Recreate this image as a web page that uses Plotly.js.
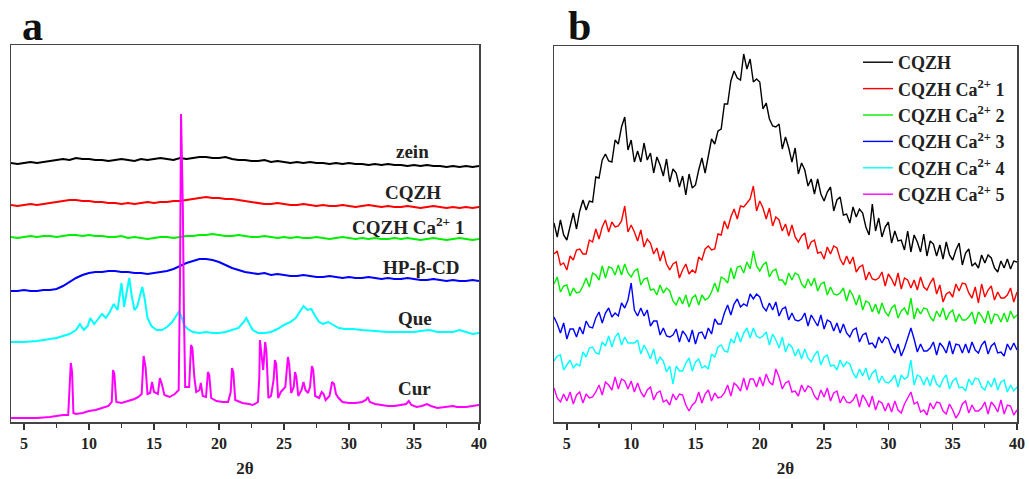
<!DOCTYPE html>
<html>
<head>
<meta charset="utf-8">
<script src="https://cdn.plot.ly/plotly-3.0.1.min.js"></script>
<style>html,body{margin:0;padding:0;background:#fff;}#chart{width:1029px;height:479px;}</style>
</head>
<body>
<div id="chart"></div>
<script>
// ---------- Panel a : 2θ sampling grid (0.5° steps) and intensities (a.u., stacked) ----------
const THETA_A_START = 4, THETA_A_STEP = 0.5, THETA_A_COUNT = 73;
const thetaA = [];
for (let i = 0; i < THETA_A_COUNT; i++) thetaA.push(THETA_A_START + i * THETA_A_STEP);

const zeinA = [259,258,259,260,259,260,261,262,263,262,264,263,263,262,262,261,262,263,262,261,263,262,263,264,263,262,264,263,264,265,265,264,264,265,263,262,262,261,261,262,260,261,260,259,260,259,260,259,259,258,259,258,259,258,258,257,258,257,258,257,257,256,257,256,257,256,256,255,256,255,256,255,256];
const cqzhA = [217,216,217,218,217,218,219,220,221,222,222,221,221,220,220,219,219,218,219,218,219,220,219,220,220,221,221,222,223,224,225,224,224,223,223,222,221,220,219,218,218,219,218,217,217,218,217,216,217,216,216,217,216,215,216,217,216,215,216,215,215,216,215,214,215,216,215,214,215,214,215,214,215];
const caA1 = [185,184,185,186,185,186,186,185,186,187,187,186,187,186,186,185,185,186,184,185,184,183,184,185,185,184,185,186,186,187,187,188,187,186,186,187,186,185,185,186,185,184,185,184,185,184,184,185,184,183,184,185,184,183,184,183,184,183,183,184,183,184,183,182,183,184,183,182,183,184,183,182,183];
const hpcdA = [131,131,132,131,131,132,132,133,136,140,144,147,149,150,150,151,151,150,150,149,149,148,149,150,151,153,156,159,161,163,163,162,160,157,154,152,150,149,148,149,147,148,147,146,146,147,146,145,145,146,145,144,145,144,144,145,144,143,144,143,143,144,143,142,142,143,142,141,142,141,141,142,141];

const queTheta = [4,5,6,7,7.5,8,8.5,9,9.3,9.6,9.9,10.1,10.4,10.7,11,11.3,11.6,11.9,12.2,12.5,12.7,12.9,13.1,13.3,13.5,13.7,13.9,14.1,14.3,14.5,14.8,15.2,15.6,16,16.4,16.7,16.9,17.1,17.3,17.6,18,18.5,19,19.5,20,20.5,21,21.5,21.9,22.1,22.3,22.6,23,23.5,24,24.5,25,25.5,25.9,26.2,26.5,26.8,27.1,27.4,27.7,28,28.4,28.8,29.2,29.7,30.3,31,32,33,34,35,35.5,36.2,36.8,37.5,38,38.5,39,39.5,40];
const queI =     [80,80,81,83,84,86,88,92,98,92,96,104,98,103,108,104,110,118,112,139,115,130,144,125,112,115,125,135,122,104,96,92,92,95,100,106,110,106,97,93,90,89,90,89,89,90,92,94,100,104,99,92,89,89,90,93,97,100,104,110,116,112,113,106,100,98,100,97,94,93,93,92,91,90,90,90,91,92,90,90,90,92,90,88,89];

const curTheta = [4,5,6,7,7.5,8,8.4,8.5,8.6,8.7,8.8,9,9.5,10,10.5,11,11.5,11.75,11.85,11.95,12.1,12.5,13,13.5,13.8,14.05,14.2,14.35,14.5,14.7,14.85,15,15.3,15.45,15.6,15.8,16.2,16.6,16.9,17,17.08,17.16,17.22,17.3,17.4,17.7,17.85,17.95,18.1,18.25,18.5,18.6,18.75,19,19.15,19.25,19.4,19.8,20.3,20.7,20.9,21,21.1,21.25,21.8,22.3,22.6,23,23.1,23.15,23.3,23.4,23.55,23.65,23.8,24,24.2,24.3,24.4,24.55,24.75,24.9,25.1,25.3,25.4,25.55,25.75,25.85,25.95,26.1,26.35,26.5,26.65,26.85,27,27.15,27.25,27.4,27.7,27.9,28.05,28.2,28.5,28.7,28.85,29,29.2,29.5,30,30.5,31,31.3,31.45,31.6,32,32.5,33,33.5,34,34.4,34.6,34.8,35.2,35.6,36,36.3,36.8,37.5,38,38.3,39,39.5,40];
const curI =     [4,4,4,5,6,7,7,30,59,50,9,8,9,11,12,14,16,20,52,48,20,19,21,23,25,28,66,55,28,29,40,30,28,44,38,27,25,28,32,140,308,250,214,110,35,35,77,74,45,30,32,39,26,25,50,47,24,21,20,20,30,54,50,22,19,18,17,20,45,82,60,52,80,70,24,26,42,62,58,24,30,32,35,65,58,29,35,50,45,26,32,40,32,29,35,56,52,26,24,30,28,22,26,40,38,28,24,20,19,19,20,22,25,20,18,17,16,16,17,18,21,17,15,16,18,16,14,15,16,15,15,16,17];

// ---------- Panel b : 2θ sampling grid (0.25° steps) and intensities (a.u., stacked) ----------
const THETA_B_START = 4, THETA_B_STEP = 0.25, THETA_B_COUNT = 145;
const thetaB = [];
for (let i = 0; i < THETA_B_COUNT; i++) thetaB.push(THETA_B_START + i * THETA_B_STEP);

const cqzhB = [199,185,202,187, 182,197,209,193, 211,222,212,221, 220,245,244,262, 268,261,260,282, 278,295,305,272, 282,260,271,260, 279,262,269,249, 265,257,246,263, 240,253,249,235, 246,227,248,234, 237,252,264,249, 268,283,278,291, 293,318,318,341, 351,344,342,368, 353,363,340,343, 340,313,319,303, 296,295,298,273, 285,274,260,274, 248,259,252,236, 243,228,243,228, 221,230,235,211, 222,225,207,208, 199,215,205,213, 209,195,187,218, 191,204,185,195, 200,179,191,181, 182,172,191,170, 187,180,170,188, 166,181,178,166, 177,163,180,167, 162,172,179,157, 169,173,156,159, 154,167,159,167, 164,154,150,161, 154,163,153,161, 160];
const ca1B = [168,171,157,159, 152,166,162,172, 173,168,168,182, 180,193,183,195, 202,190,200,195, 196,201,216,190, 197,190,181,192, 175,183,179,168, 174,161,171,158, 152,158,160,144, 152,158,148,152, 149,165,162,173, 176,172,173,188, 187,201,193,205, 213,203,216,215, 219,223,236,211, 221,214,203,214, 196,205,202,191, 198,186,197,185, 180,186,189,173, 180,182,169,170, 163,175,168,176, 174,163,157,166, 158,165,150,155, 157,142,150,143, 142,144,150,136, 148,143,136,149, 133,144,142,134, 142,132,145,135, 132,139,144,128, 137,120,128,130, 125,138,131,139, 138,129,124,135, 119,138,125,132, 136,122,130,124, 124,127,134,120, 130];
const ca2B = [138,145,130,136, 137,126,134,129, 130,136,144,135, 149,147,142,156, 144,155,154,147, 157,147,158,149, 145,151,153,137, 143,144,132,133, 127,137,129,134, 131,121,117,125, 118,127,115,124, 127,117,127,122, 124,130,139,130, 145,143,139,154, 143,155,156,149, 160,153,171,156, 151,157,160,145, 151,153,142,142, 137,149,142,149, 147,138,134,143, 136,144,131,138, 140,127,135,128, 127,129,134,121, 132,126,117,127, 112,121,119,110, 118,108,119,110, 106,114,117,104, 111,114,107,124, 103,114,108,114, 113,105,101,111, 105,114,102,109, 112,100,108,102, 102,105,110,98, 110,106,99,111, 98,108,107,100, 109,100,111,104, 107];
const ca3B = [105,98,89,99, 83,93,93,85, 95,88,101,95, 94,104,110,99, 109,114,105,109, 106,119,114,122, 139,112,106,114, 106,112,96,101, 101,87,94,86, 85,87,93,80, 91,87,80,92, 78,89,90,83, 94,88,103,98, 98,109,117,107, 118,123,115,118, 116,128,123,128, 125,115,111,119, 112,120,106,113, 115,102,109,102, 101,103,109,96, 107,102,96,107, 93,102,100,91, 99,89,98,89, 85,92,94,80, 87,89,78,79, 74,85,79,85, 83,74,69,78, 66,74,83,94, 83,70,78,71, 71,74,80,67, 79,75,69,81, 68,78,77,69, 78,69,80,72, 69,77,81,68, 76,79,69,70, 66,78,72,79, 72];
const ca4B = [61,66,67,52, 57,62,54,58, 56,70,65,74, 75,69,68,80, 76,86,75,85, 89,77,85,79, 79,79,82,68, 77,71,63,73, 58,65,61,50, 56,38,56,51, 51,59,64,51, 60,63,54,56, 53,68,65,75, 77,71,70,83, 79,90,80,89, 94,84,94,86, 84,86,90,77, 88,82,74,85, 70,78,75,66, 73,63,73,64, 60,67,71,57, 65,67,56,57, 52,62,55,60, 58,49,44,53, 46,54,42,49, 52,39,46,40, 39,42,47,35, 47,43,45,62, 37,47,45,37, 45,36,47,38, 35,43,47,33, 41,44,34,35, 31,43,37,44, 43,35,32,41, 35,44,32,40, 42,30,37,31, 35];
const ca5B = [34,24,20,28, 21,30,18,27, 30,19,28,24, 25,30,37,27, 40,37,32,45, 33,43,41,33, 41,30,39,30, 25,32,35,22, 29,31,20,22, 17,28,22,28, 27,17,11,17, 20,30,19,28, 32,21,29,24, 25,29,37,26, 39,36,31,44, 32,43,43,35, 45,36,48,40, 37,53,45,33, 39,41,30,31, 26,37,30,36, 34,26,22,32, 25,34,21,29, 31,19,26,20, 19,22,28,15, 27,22,15,26, 12,21,19,11, 19,10,21,12, 9,18,24,30, 18,20,10,12, 7,19,13,20, 19,11,8,18, 12,4,9,18, 21,9,17,11, 11,14,20,8, 20,16,10,22, 8,17,16,7, 12];

// ---------- labels ----------
const labelsA = ["zein", "CQZH", "CQZH Ca<sup>2+</sup> 1", "HP-β-CD", "Que", "Cur"];
const labelsB = ["CQZH", "CQZH Ca<sup>2+</sup> 1", "CQZH Ca<sup>2+</sup> 2", "CQZH Ca<sup>2+</sup> 3", "CQZH Ca<sup>2+</sup> 4", "CQZH Ca<sup>2+</sup> 5"];
const tickLabels = [5, 10, 15, 20, 25, 30, 35, 40];
const minorTicks = [7.5, 12.5, 17.5, 22.5, 27.5, 32.5, 37.5];

const colors = ["#000000", "#ff0000", "#00ee00", "#0000ff", "#00ffff", "#ff00ff"];
const serif = "Liberation Serif, Times New Roman, serif";

const seriesA = [
  {x: thetaA, y: zeinA}, {x: thetaA, y: cqzhA}, {x: thetaA, y: caA1},
  {x: thetaA, y: hpcdA}, {x: queTheta, y: queI}, {x: curTheta, y: curI}
];
const seriesB = [cqzhB, ca1B, ca2B, ca3B, ca4B, ca5B];

const traces = [];
seriesA.forEach((s, i) => traces.push({
  type: "scatter", mode: "lines", x: s.x, y: s.y, xaxis: "x", yaxis: "y",
  line: {color: colors[i], width: 2}, showlegend: false, name: labelsA[i], hoverinfo: "skip"
}));
seriesB.forEach((ys, i) => traces.push({
  type: "scatter", mode: "lines", x: thetaB, y: ys, xaxis: "x2", yaxis: "y2",
  line: {color: colors[i], width: 1.4}, showlegend: true, name: labelsB[i], hoverinfo: "skip"
}));

// label positions for panel a (in data coordinates)
const labelPosA = [[34.85, 271], [34.9, 230], [34.5, 196], [35.6, 155], [35.1, 104], [35.0, 34]];

const annotations = labelsA.map((t, i) => ({
  xref: "x", yref: "y", x: labelPosA[i][0], y: labelPosA[i][1], text: t, showarrow: false,
  xanchor: "center", yanchor: "middle",
  font: {family: serif, size: 19, color: "#222", weight: "bold"}
}));
annotations.push({xref: "paper", yref: "paper", x: 32/1029, y: (479-26)/479, text: "a", showarrow: false,
  xanchor: "center", yanchor: "middle",
  font: {family: serif, size: 42, color: "#111", weight: "bold"}});
annotations.push({xref: "paper", yref: "paper", x: 579/1029, y: (479-26)/479, text: "b", showarrow: false,
  xanchor: "center", yanchor: "middle",
  font: {family: serif, size: 42, color: "#111", weight: "bold"}});

function xAxis(domain) {
  return {
    domain: domain, range: [4, 40], tickmode: "array", tickvals: tickLabels, ticktext: tickLabels.map(String),
    ticks: "outside", ticklen: 6, tickwidth: 1.3, tickcolor: "#333",
    minor: {tickmode: "array", tickvals: minorTicks, ticks: "outside", ticklen: 4, tickwidth: 1.2, tickcolor: "#333"},
    showline: true, linecolor: "#444", linewidth: 1.5, mirror: true, showgrid: false, zeroline: false,
    tickfont: {family: serif, size: 16, color: "#222", weight: "bold"},
    title: {text: "2θ", font: {family: serif, size: 17, color: "#222", weight: "bold"}, standoff: 11},
    automargin: false
  };
}
function yAxis(domain, top) {
  return {
    domain: domain, range: [0, top], showticklabels: false, ticks: "", showgrid: false, zeroline: false,
    showline: true, linecolor: "#444", linewidth: 1.5, mirror: true, automargin: false
  };
}

const layout = {
  width: 1029, height: 479, margin: {l: 0, r: 0, t: 0, b: 0},
  paper_bgcolor: "#fff", plot_bgcolor: "#fff",
  xaxis: xAxis([11/1029, 479/1029]),
  yaxis: yAxis([57/479, 434/479], 377),
  xaxis2: xAxis([554/1029, 1017/1029]),
  yaxis2: Object.assign(yAxis([57/479, 433/479], 376), {anchor: "x2"}),
  annotations: annotations,
  legend: {x: 858/1029, y: (479-44)/479, xanchor: "left", yanchor: "top", bgcolor: "rgba(0,0,0,0)",
    font: {family: serif, size: 18, color: "#222", weight: "bold"}, tracegroupgap: 0},
  showlegend: true
};
layout.xaxis2.anchor = "y2";

Plotly.newPlot("chart", traces, layout, {staticPlot: true, displayModeBar: false});
</script>
</body>
</html>
